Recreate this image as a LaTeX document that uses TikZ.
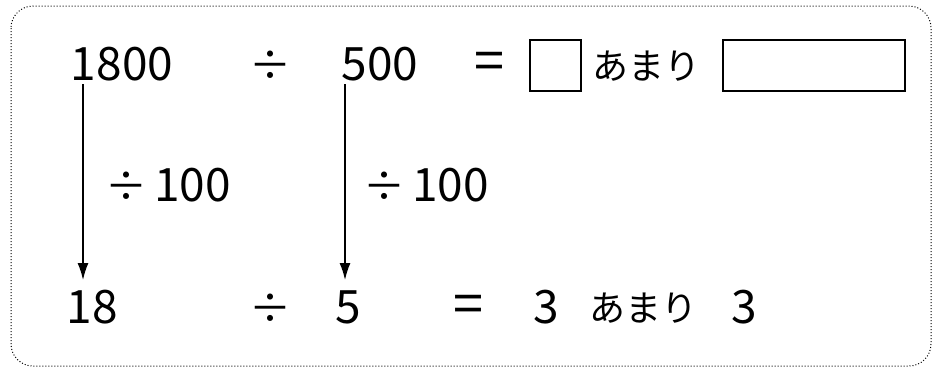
\documentclass[tikz,border=0pt]{standalone}
\usepackage{fontspec}
\setmainfont{Noto Sans CJK JP}
\newfontfamily\jpfont{Noto Sans CJK JP}
\usetikzlibrary{arrows.meta}
\tikzset{
  num/.style={inner sep=0pt, font=\fontsize{46}{46}\selectfont},
  divop/.style={inner sep=0pt, font=\fontsize{42}{42}\selectfont},
  eqop/.style={inner sep=0pt, font=\fontsize{54}{54}\selectfont},
  jp/.style={inner sep=0pt, font=\jpfont\fontsize{36}{36}\selectfont},
  lbl/.style={inner sep=0pt, font=\fontsize{46}{46}\selectfont},
  ansbox/.style={draw, line width=1.5pt, inner sep=0pt},
  arr/.style={line width=1.5pt, -{Latex[length=17pt,width=11pt]}},
  frame/.style={line width=1pt, dotted, rounded corners=22pt}
}
\begin{document}
\begin{tikzpicture}[x=1pt,y=-1pt]
\useasboundingbox (0,0) rectangle (933,368);
\draw[frame] (11,6) rectangle (931,366);
% top row
\node[num] (n1800) at (122,64) {1800};
\node[divop] (div1) at (270,66) {÷};
\node[num] (n500) at (380,64) {500};
\node[eqop] (eq1) at (489,66) {=};
\node[ansbox, minimum width=51pt, minimum height=51pt] (box1) at (555.5,65.5) {};
\node[jp] (amari1) at (646,66) {あまり};
\node[ansbox, minimum width=182pt, minimum height=51pt] (box2) at (814,65.5) {};
% labels
\node[lbl] (d100a) at (168,185) {\fontsize{42}{42}\selectfont÷\,\fontsize{46}{46}\selectfont100};
\node[lbl] (d100b) at (426,185) {\fontsize{42}{42}\selectfont÷\,\fontsize{46}{46}\selectfont100};
% bottom row
\node[num] (n18) at (92,307) {18};
\node[divop] (div2) at (270,309) {÷};
\node[num] (n5) at (348,307) {5};
\node[eqop] (eq2) at (468,309) {=};
\node[num] (q) at (546,307) {3};
\node[jp] (amari2) at (643,308) {あまり};
\node[num] (r) at (744,307) {3};
% arrows
\coordinate (a1s) at (83,84);
\coordinate (a1e) at (83,280);
\coordinate (a2s) at (345,84);
\coordinate (a2e) at (345,280);
\draw[arr] (a1s) -- (a1e);
\draw[arr] (a2s) -- (a2e);
\end{tikzpicture}
\end{document}
